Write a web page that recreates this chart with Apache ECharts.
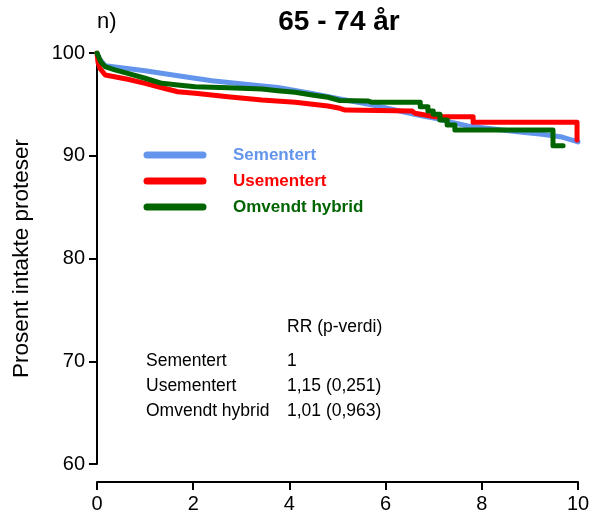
<!DOCTYPE html>
<html>
<head>
<meta charset="utf-8">
<script src="https://cdn.jsdelivr.net/npm/echarts@6/dist/echarts.min.js"></script>
<style>
  html, body { margin: 0; padding: 0; background: #fff; }
  #chart { width: 592px; height: 515px; }
</style>
</head>
<body>
<div id="chart"></div>
<script>
// Survival of prostheses, age group 65-74: [years, percent intact].
// Repeated x values mark the visible drops of the step curves.
const sementert = [
  [0, 100], [0.04, 99.51], [0.17, 98.76], [1.00, 98.28], [1.68, 97.79], [2.39, 97.30],
  [3.08, 96.95], [3.76, 96.64], [4.47, 96.06], [5.05, 95.52], [5.68, 94.99], [6.34, 94.31],
  [6.67, 93.97], [7.03, 93.64], [7.38, 93.24], [7.71, 92.90], [8.42, 92.51], [8.84, 92.28],
  [9.25, 92.09], [9.67, 91.82], [9.88, 91.53], [10.0, 91.34]
];
const usementert = [
  [0, 100], [0.02, 99.12], [0.06, 98.51], [0.17, 97.86], [0.64, 97.44], [1.00, 97.05],
  [1.35, 96.62], [1.68, 96.23], [2.04, 96.08], [2.72, 95.75], [3.43, 95.43], [4.12, 95.20],
  [4.80, 94.84], [5.05, 94.62], [5.16, 94.45], [6.55, 94.36], [6.61, 94.13], [7.03, 93.80],
  [7.82, 93.80], [7.82, 93.26], [9.98, 93.26], [9.98, 91.53]
];
const omvendtHybrid = [
  [0, 100], [0.04, 99.81], [0.08, 99.12], [0.17, 98.67], [0.37, 98.35], [0.64, 98.02],
  [1.00, 97.54], [1.35, 97.05], [1.68, 96.89], [2.04, 96.72], [2.72, 96.62], [3.43, 96.50],
  [3.76, 96.33], [4.12, 96.18], [4.47, 95.91], [4.80, 95.69], [5.05, 95.38], [5.63, 95.33],
  [5.72, 95.20], [6.72, 95.20], [6.72, 94.77], [6.88, 94.77], [6.88, 94.36], [6.99, 94.36],
  [6.99, 94.03], [7.13, 94.03], [7.13, 93.48], [7.28, 93.48], [7.28, 92.99], [7.44, 92.99],
  [7.44, 92.51], [9.48, 92.51], [9.48, 90.98], [9.69, 90.98]
];

const seriesNames = ['Sementert', 'Usementert', 'Omvendt hybrid'];
const seriesColors = ['#6495ED', '#FF0000', '#006400'];
const rrHeader = 'RR (p-verdi)';
const rrValues = ['1', '1,15 (0,251)', '1,01 (0,963)'];
const xTicks = { min: 0, max: 10, step: 2 };
const yTicks = { min: 60, max: 100, step: 10 };

const FONT = '"Liberation Sans", Arial, sans-serif';
const chart = echarts.init(document.getElementById('chart'), null, { renderer: 'canvas' });

function kmSeries(name, data, color, z) {
  return {
    name: name, type: 'line', data: data, showSymbol: false,
    z: z, animation: false,
    lineStyle: { color: color, width: 5, cap: 'round', join: 'round' }
  };
}

// legend rows and the RR table, drawn as graphic elements
const graphics = [];
seriesNames.forEach(function (n, i) {
  const y = 155 + i * 26;
  graphics.push({
    type: 'line', shape: { x1: 147, y1: y, x2: 203, y2: y },
    style: { stroke: seriesColors[i], lineWidth: 7, lineCap: 'round' }
  });
  graphics.push({
    type: 'text', x: 233, y: y,
    style: { text: n, fill: seriesColors[i], font: 'bold 17px ' + FONT, textVerticalAlign: 'middle' }
  });
});
graphics.push({
  type: 'text', x: 287, y: 327,
  style: { text: rrHeader, fill: '#000', font: '17.5px ' + FONT, textVerticalAlign: 'middle' }
});
seriesNames.forEach(function (n, i) {
  const y = 361 + i * 25;
  graphics.push({
    type: 'text', x: 146, y: y,
    style: { text: n, fill: '#000', font: '17.5px ' + FONT, textVerticalAlign: 'middle' }
  });
  graphics.push({
    type: 'text', x: 287, y: y,
    style: { text: rrValues[i], fill: '#000', font: '17.5px ' + FONT, textVerticalAlign: 'middle' }
  });
});
graphics.push({
  type: 'text', x: 97, y: 22,
  style: { text: 'n)', fill: '#000', font: '22px ' + FONT, textVerticalAlign: 'middle' }
});
graphics.push({
  type: 'text', x: 339, y: 22,
  style: { text: '65 - 74 år', fill: '#000', font: 'bold 28px ' + FONT,
           textAlign: 'center', textVerticalAlign: 'middle' }
});

chart.setOption({
  animation: false,
  backgroundColor: '#fff',
  grid: { left: 97, right: 14, top: 53, bottom: 51, outerBoundsMode: 'none', containLabel: false },
  xAxis: {
    type: 'value', min: xTicks.min, max: xTicks.max, interval: xTicks.step, offset: 18,
    axisLine: { lineStyle: { color: '#000', width: 2 } },
    axisTick: { length: 8, lineStyle: { color: '#000', width: 2 } },
    axisLabel: { color: '#000', fontFamily: FONT, fontSize: 20, margin: 12 },
    splitLine: { show: false }
  },
  yAxis: {
    type: 'value', min: yTicks.min, max: yTicks.max, interval: yTicks.step,
    name: 'Prosent intakte proteser', nameLocation: 'middle', nameGap: 64,
    nameTextStyle: { color: '#000', fontFamily: FONT, fontSize: 22.5 },
    axisLine: { show: true, lineStyle: { color: '#000', width: 2 } },
    axisTick: { show: true, length: 8, lineStyle: { color: '#000', width: 2 } },
    axisLabel: { color: '#000', fontFamily: FONT, fontSize: 20, margin: 12 },
    splitLine: { show: false }
  },
  series: [
    kmSeries(seriesNames[0], sementert, seriesColors[0], 2),
    kmSeries(seriesNames[1], usementert, seriesColors[1], 3),
    kmSeries(seriesNames[2], omvendtHybrid, seriesColors[2], 4)
  ],
  graphic: graphics
});
</script>
</body>
</html>
